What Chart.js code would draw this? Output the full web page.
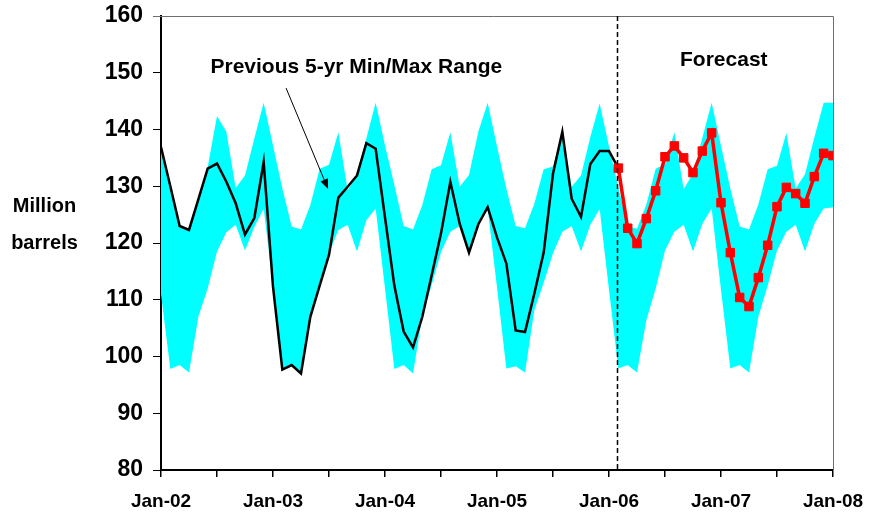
<!DOCTYPE html>
<html>
<head>
<meta charset="utf-8">
<script src="https://cdn.jsdelivr.net/npm/chart.js@4/dist/chart.umd.min.js"></script>
<style>
  html, body { margin: 0; padding: 0; background: #fff; }
  canvas { display: block; }
</style>
</head>
<body>
<canvas id="stocks" width="870" height="517"></canvas>
<script>
// tick labels (one per January, x runs in months from Jan-02)
const yearLabels = ['Jan-02', 'Jan-03', 'Jan-04', 'Jan-05', 'Jan-06', 'Jan-07', 'Jan-08'];

// previous 5-yr max, one value per month Jan-02 .. Jan-08
const rangeMax = [
  136.9, 130.0, 123.0, 122.3, 127.7, 133.4, 142.4, 139.6, 129.7, 131.9, 138.4, 144.7,
  137.2, 129.6, 122.9, 122.4, 126.7, 133.1, 133.8, 139.5, 129.3, 132.0, 138.4, 144.7,
  137.2, 130.2, 123.0, 122.4, 126.7, 133.0, 133.7, 139.5, 129.9, 132.0, 139.6, 144.7,
  137.0, 129.6, 123.0, 122.6, 126.9, 133.0, 133.5, 139.6, 129.9, 131.9, 138.7, 144.6,
  137.0, 129.8, 123.0, 122.5, 126.8, 133.1, 133.9, 139.5, 129.5, 132.2, 138.5, 144.7,
  137.1, 129.6, 122.9, 122.4, 126.8, 133.0, 133.6, 139.4, 129.6, 132.1, 138.6, 144.7,
  144.7
];

// previous 5-yr min
const rangeMin = [
  111.0, 97.8, 98.5, 97.2, 107.0, 112.0, 118.5, 121.9, 123.2, 118.7, 122.8, 126.1,
  112.4, 97.8, 98.6, 97.0, 107.0, 112.6, 118.2, 122.3, 123.2, 118.5, 124.0, 126.1,
  112.0, 97.8, 98.5, 97.0, 107.2, 112.6, 118.4, 122.0, 123.0, 118.5, 123.7, 126.1,
  112.2, 97.9, 98.3, 97.2, 108.2, 113.0, 118.2, 122.0, 123.0, 118.5, 123.2, 126.0,
  111.7, 97.9, 98.5, 97.2, 106.4, 112.0, 118.7, 122.0, 123.2, 118.5, 123.4, 126.1,
  111.7, 97.9, 98.5, 97.2, 107.0, 112.5, 118.7, 122.0, 123.2, 118.5, 123.4, 126.1,
  126.3
];

// actual stocks Jan-02 .. Feb-06
const actual = [
  136.9, 130.0, 123.0, 122.3, 127.7, 133.1, 134.0, 130.8, 127.0, 121.5, 124.4, 134.3,
  112.3, 97.7, 98.5, 97.0, 107.0, 112.5, 117.9, 128.0, 129.9, 131.9, 137.6, 136.6,
  124.5, 112.5, 104.4, 101.6, 107.0, 114.3, 121.7, 130.8, 123.4, 118.3, 123.3, 126.3,
  121.0, 116.4, 104.6, 104.3, 111.1, 118.3, 132.2, 139.6, 127.8, 124.6, 133.9, 136.2,
  136.2, 133.2
];

// forecast Feb-06 .. Jan-08
const forecastStart = 49;
const forecast = [
  133.2, 122.6, 119.9, 124.3, 129.2, 135.2, 137.1, 135.0, 132.4, 136.2, 139.4,
  127.1, 118.3, 110.4, 108.8, 113.9, 119.6, 126.4, 129.8, 128.7, 127.0, 131.7, 135.8,
  135.4
];

// where the dashed forecast divider sits (in months from Jan-02)
const forecastDivider = 48.9;

const toPoints = (arr, start) => arr.map((v, i) => ({ x: start + i, y: v }));

const FONT = 'Liberation Sans, Arial, sans-serif';
Chart.defaults.font.family = FONT;
Chart.defaults.font.weight = 'bold';
Chart.defaults.color = '#000';

// text, arrow, dashed line and frame
const overlay = {
  id: 'overlay',
  afterDatasetsDraw(chart) {
    const { ctx, chartArea: a, scales: { x, y } } = chart;
    ctx.save();

    // grey frame top and right
    ctx.strokeStyle = '#6e6e6e';
    ctx.lineWidth = 1;
    ctx.beginPath();
    ctx.moveTo(a.left - 8, a.top + 0.5);
    ctx.lineTo(a.right + 0.5, a.top + 0.5);
    ctx.lineTo(a.right + 0.5, a.bottom);
    ctx.stroke();

    // dashed divider
    const dx = Math.round(x.getPixelForValue(forecastDivider)) + 0.5;
    ctx.strokeStyle = '#000';
    ctx.lineWidth = 1.5;
    ctx.setLineDash([5, 3]);
    ctx.beginPath();
    ctx.moveTo(dx, a.top);
    ctx.lineTo(dx, a.bottom);
    ctx.stroke();
    ctx.setLineDash([]);

    // labels
    ctx.fillStyle = '#000';
    ctx.font = 'bold 21px ' + FONT;
    ctx.textBaseline = 'alphabetic';
    ctx.textAlign = 'left';
    ctx.fillText('Previous 5-yr Min/Max Range', x.getPixelForValue(5.3), y.getPixelForValue(150.0));
    ctx.textAlign = 'center';
    ctx.fillText('Forecast', x.getPixelForValue(60.3), y.getPixelForValue(151.2));

    ctx.font = 'bold 20px ' + FONT;
    ctx.fillText('Million', 44.5, 211.5);
    ctx.fillText('barrels', 44.5, 249);

    // arrow
    const x0 = x.getPixelForValue(13.4), y0 = y.getPixelForValue(147.3);
    const x1 = x.getPixelForValue(17.9), y1 = y.getPixelForValue(129.5);
    const ang = Math.atan2(y1 - y0, x1 - x0);
    ctx.lineWidth = 1;
    ctx.beginPath();
    ctx.moveTo(x0, y0);
    ctx.lineTo(x1 - 8 * Math.cos(ang), y1 - 8 * Math.sin(ang));
    ctx.stroke();
    ctx.beginPath();
    ctx.moveTo(x1, y1);
    ctx.lineTo(x1 - 10 * Math.cos(ang) + 4 * Math.sin(ang), y1 - 10 * Math.sin(ang) - 4 * Math.cos(ang));
    ctx.lineTo(x1 - 10 * Math.cos(ang) - 4 * Math.sin(ang), y1 - 10 * Math.sin(ang) + 4 * Math.cos(ang));
    ctx.closePath();
    ctx.fill();

    ctx.restore();
  }
};

const datasets = [
  {
    label: 'max',
    data: toPoints(rangeMax, 0),
    borderWidth: 0,
    pointRadius: 0,
    backgroundColor: '#00ffff',
    fill: '+1',
    order: 3
  },
  {
    label: 'min',
    data: toPoints(rangeMin, 0),
    borderWidth: 0,
    pointRadius: 0,
    backgroundColor: '#00ffff',
    fill: false,
    order: 3
  },
  {
    label: 'actual',
    data: toPoints(actual, 0),
    borderColor: '#000',
    borderWidth: 2.5,
    pointRadius: 0,
    fill: false,
    order: 2
  },
  {
    label: 'forecast',
    data: toPoints(forecast, forecastStart),
    borderColor: '#ff0000',
    borderWidth: 3.5,
    pointStyle: 'rect',
    pointRadius: 6,
    pointBorderWidth: 1,
    pointBackgroundColor: '#ff0000',
    pointBorderColor: '#ff0000',
    fill: false,
    order: 1
  }
];

const config = {
  type: 'line',
  data: { datasets },
  options: {
    responsive: false,
    animation: false,
    devicePixelRatio: 1,
    layout: { padding: { left: 0, right: 37, top: 16, bottom: 0 } },
    elements: { line: { tension: 0 } },
    plugins: { legend: { display: false }, tooltip: { enabled: false } },
    scales: {
      x: {
        type: 'linear',
        min: 0,
        max: 72,
        afterFit: (s) => { s.height = 47; s.paddingLeft = 0; s.paddingRight = 0; },
        ticks: {
          stepSize: 6,
          autoSkip: false,
          maxRotation: 0,
          padding: 13,
          font: { size: 19, weight: 'bold' },
          callback: (v) => (v % 12 === 0 ? yearLabels[v / 12] : '')
        },
        grid: { drawOnChartArea: false, tickLength: 7, color: '#000', lineWidth: 1.5 },
        border: { color: '#000', width: 2 }
      },
      y: {
        min: 80,
        max: 160,
        afterFit: (s) => { s.width = 161; s.paddingTop = 0; s.paddingBottom = 0; },
        ticks: { stepSize: 10, padding: 10, font: { size: 23, weight: 'bold' } },
        grid: { drawOnChartArea: false, tickLength: 8, color: '#000', lineWidth: 1 },
        border: { color: '#000', width: 2 }
      }
    }
  },
  plugins: [overlay]
};

new Chart(document.getElementById('stocks'), config);
</script>
</body>
</html>
